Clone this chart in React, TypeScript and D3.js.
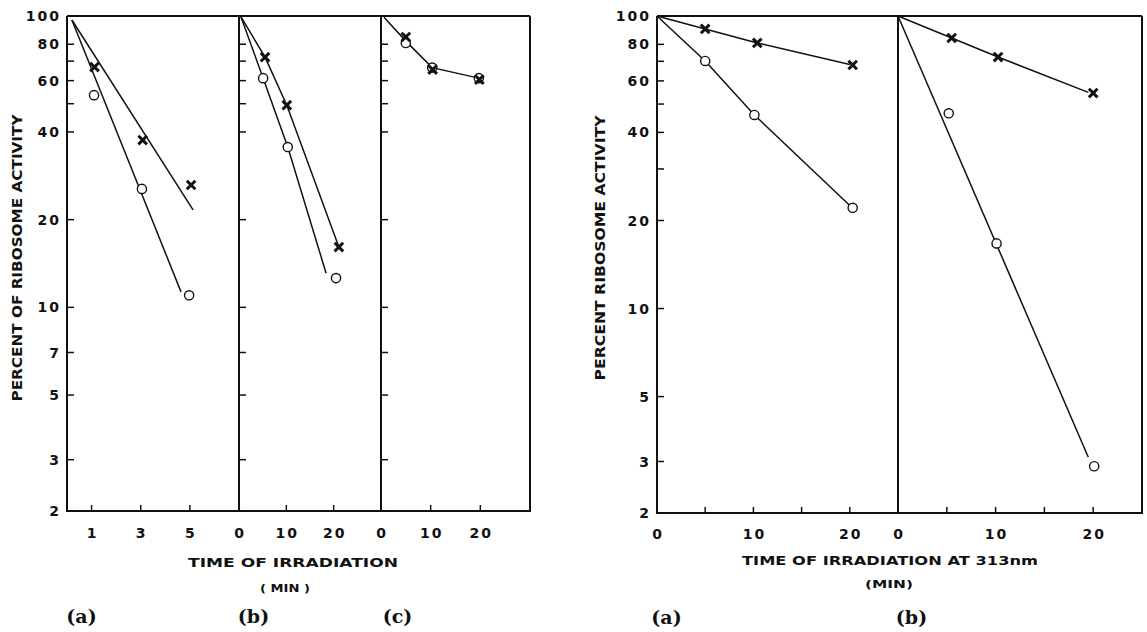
import React from 'react';
import * as d3 from 'd3';

type P = [number, number];

// ---------- DATA ----------
const leftYTicks = [100, 80, 70, 60, 50, 40, 20, 10, 7, 5, 3, 2];
const leftYLabels = [100, 80, 60, 40, 20, 10, 7, 5, 3, 2];
const rightYTicks = [100, 80, 70, 60, 50, 40, 30, 20, 10, 5, 3, 2];
const rightYLabels = [100, 80, 60, 40, 20, 10, 5, 3, 2];

const laXTicks = [1, 3, 5];
const laXLabels = [1, 3, 5];
const lbXTicks = [10, 20];
const lbXLabels = [0, 10, 20];
const lcXTicks = [10, 20];
const lcXLabels = [0, 10, 20];
const raXTicks = [5, 10, 15, 20];
const raXLabels = [0, 10, 20];
const rbXTicks = [5, 10, 15, 20];
const rbXLabels = [0, 10, 20];

// left figure, panel (a)
const laX: P[] = [[1.12, 66.8], [3.08, 37.5], [5.05, 26.3]];
const laO: P[] = [[1.1, 53.5], [3.05, 25.5], [4.97, 11.0]];
const laLineX: P[] = [[0.2, 96.9], [5.13, 21.6]];
const laLineO: P[] = [[0.2, 96.9], [4.64, 11.3]];
// panel (b)
const lbX: P[] = [[5.5, 72.2], [10.1, 49.4], [21.1, 16.1]];
const lbO: P[] = [[5.1, 61.2], [10.3, 35.5], [20.5, 12.6]];
const lbLineX: P[] = [[0.4, 99.5], [5.5, 72.2], [10.1, 49.4], [21.1, 16.1]];
const lbLineO: P[] = [[0.4, 99.5], [5.1, 61.2], [10.3, 35.5], [18.4, 13.1]];
// panel (c)
const lcX: P[] = [[5.0, 84.7], [10.4, 65.5], [19.8, 60.5]];
const lcO: P[] = [[5.0, 80.8], [10.3, 66.5], [19.7, 61.2]];
const lcLine: P[] = [[0.6, 99], [5.0, 82], [10.3, 66.5], [19.7, 61.2]];

// right figure, panel (a)
const raX: P[] = [[5.0, 90.3], [10.4, 80.9], [20.3, 68.0]];
const raO: P[] = [[5.0, 70.2], [10.1, 45.9], [20.3, 22.1]];
const raLineX: P[] = [[0, 100], [5.0, 90.3], [10.4, 80.9], [20.0, 68.3]];
const raLineO: P[] = [[0, 100], [5.0, 70.2], [10.1, 45.9], [20.0, 22.5]];
// panel (b)
const rbX: P[] = [[5.5, 84.1], [10.25, 72.4], [20.0, 54.5]];
const rbO: P[] = [[5.2, 46.5], [10.1, 16.7], [20.1, 2.89]];
const rbLineX: P[] = [[0, 100], [5.5, 84.1], [10.25, 72.4], [19.5, 54.8]];
const rbLineO: P[] = [[0, 100], [19.5, 3.1]];

// ---------- STYLE ----------
const SANS = "'DejaVu Sans', 'Liberation Sans', sans-serif";
const SERIF = "'DejaVu Serif', 'Liberation Serif', serif";
const INK = '#111';

function XMark({ x, y }: { x: number; y: number }) {
  const s = 4.3;
  return (
    <path
      d={`M${x - s},${y - s}L${x + s},${y + s}M${x + s},${y - s}L${x - s},${y + s}`}
      stroke={INK}
      strokeWidth={3}
      fill="none"
    />
  );
}

function OMark({ x, y }: { x: number; y: number }) {
  return <circle cx={x} cy={y} r={4.6} fill="#fff" stroke={INK} strokeWidth={1.4} />;
}

type PanelProps = {
  x0: number;
  x1: number;
  domain: number;
  y: d3.ScaleLogarithmic<number, number>;
  bottom: number;
  yTicks: number[];
  yLabels: number[] | null;
  xTicks: number[];
  xLabels: number[];
  labelY: number;
  lines: P[][];
  xs: P[];
  os: P[];
};

function Panel(p: PanelProps) {
  const x = d3.scaleLinear().domain([0, p.domain]).range([p.x0, p.x1]);
  const line = d3
    .line<P>()
    .x((d) => x(d[0]))
    .y((d) => p.y(d[1]));
  return (
    <g>
      {p.yTicks.map((t) => (
        <line key={'yt' + t} x1={p.x0} x2={p.x0 + 7} y1={p.y(t)} y2={p.y(t)} stroke={INK} strokeWidth={1.5} />
      ))}
      {p.yLabels &&
        p.yLabels.map((t) => (
          <text
            key={'yl' + t}
            x={p.x0 - 6}
            y={p.y(t)}
            dy="0.36em"
            textAnchor="end"
            fontFamily={SANS}
            fontWeight="bold"
            fontSize={14}
            letterSpacing={2}
            fill={INK}
          >
            {t}
          </text>
        ))}
      {p.xTicks.map((t) => (
        <line key={'xt' + t} x1={x(t)} x2={x(t)} y1={p.bottom} y2={p.bottom - 6} stroke={INK} strokeWidth={1.5} />
      ))}
      {p.xLabels.map((t) => (
        <text
          key={'xl' + t}
          x={x(t) + 1}
          y={p.labelY}
          textAnchor="middle"
          fontFamily={SANS}
          fontWeight="bold"
          fontSize={14}
          letterSpacing={2}
          fill={INK}
        >
          {t}
        </text>
      ))}
      {p.lines.map((l, i) => (
        <path key={'ln' + i} d={line(l) || ''} fill="none" stroke={INK} strokeWidth={1.5} />
      ))}
      {p.os.map((d, i) => (
        <OMark key={'o' + i} x={x(d[0])} y={p.y(d[1])} />
      ))}
      {p.xs.map((d, i) => (
        <XMark key={'x' + i} x={x(d[0])} y={p.y(d[1])} />
      ))}
    </g>
  );
}

export default function App() {
  const top = 16;
  const lBottom = 511;
  const rBottom = 513;
  const yL = d3.scaleLog().domain([2, 100]).range([lBottom, top]);
  const yR = d3.scaleLog().domain([2, 100]).range([rBottom, top]);

  const la = { x0: 67, x1: 239 };
  const lb = { x0: 239, x1: 381 };
  const lc = { x0: 381, x1: 530 };
  const ra = { x0: 657, x1: 898 };
  const rb = { x0: 898, x1: 1142 };

  const frame = (x0: number, x1: number, bottom: number, axes: number[]) => (
    <g stroke={INK} strokeWidth={2} fill="none">
      <line x1={x0} x2={x1} y1={top} y2={top} />
      <line x1={x0 - 1} x2={x1 + 1} y1={bottom} y2={bottom} />
      <line x1={x1} x2={x1} y1={top} y2={bottom} />
      {axes.map((a) => (
        <line key={a} x1={a} x2={a} y1={top} y2={bottom} />
      ))}
    </g>
  );

  return (
    <svg
      width={1147}
      height={632}
      style={{ position: 'absolute', left: 0, top: 0, background: '#fff' }}
    >
      <rect width={1147} height={632} fill="#fff" />
      {frame(la.x0, lc.x1, lBottom, [la.x0, lb.x0, lc.x0])}
      {frame(ra.x0, rb.x1, rBottom, [ra.x0, rb.x0])}

      <Panel {...la} domain={7} y={yL} bottom={lBottom} yTicks={leftYTicks} yLabels={leftYLabels}
        xTicks={laXTicks} xLabels={laXLabels} labelY={538} lines={[laLineX, laLineO]} xs={laX} os={laO} />
      <Panel {...lb} domain={30} y={yL} bottom={lBottom} yTicks={leftYTicks} yLabels={null}
        xTicks={lbXTicks} xLabels={lbXLabels} labelY={538} lines={[lbLineX, lbLineO]} xs={lbX} os={lbO} />
      <Panel {...lc} domain={30} y={yL} bottom={lBottom} yTicks={leftYTicks} yLabels={null}
        xTicks={lcXTicks} xLabels={lcXLabels} labelY={538} lines={[lcLine]} xs={lcX} os={lcO} />
      <Panel {...ra} domain={25} y={yR} bottom={rBottom} yTicks={rightYTicks} yLabels={rightYLabels}
        xTicks={raXTicks} xLabels={raXLabels} labelY={539} lines={[raLineX, raLineO]} xs={raX} os={raO} />
      <Panel {...rb} domain={25} y={yR} bottom={rBottom} yTicks={[]} yLabels={null}
        xTicks={rbXTicks} xLabels={rbXLabels} labelY={539} lines={[rbLineX, rbLineO]} xs={rbX} os={rbO} />

      {/* axis titles */}
      <g fontFamily={SANS} fill={INK}>
        <text transform="translate(22,258) rotate(-90)" textAnchor="middle" fontSize={13.5} fontWeight="bold"
          textLength={287} lengthAdjust="spacingAndGlyphs">PERCENT OF RIBOSOME ACTIVITY</text>
        <text transform="translate(605,248) rotate(-90)" textAnchor="middle" fontSize={13.5} fontWeight="bold"
          textLength={265} lengthAdjust="spacingAndGlyphs">PERCENT RIBOSOME ACTIVITY</text>
        <text x={293} y={567} textAnchor="middle" fontSize={12.5} fontWeight="bold"
          textLength={210} lengthAdjust="spacingAndGlyphs">TIME  OF  IRRADIATION</text>
        <text x={285} y={592} textAnchor="middle" fontSize={10.5} fontWeight="bold"
          textLength={50} lengthAdjust="spacingAndGlyphs">( MIN )</text>
        <text x={890} y={565} textAnchor="middle" fontSize={12.5} fontWeight="600"
          textLength={296} lengthAdjust="spacingAndGlyphs">TIME OF IRRADIATION AT 313nm</text>
        <text x={889} y={588} textAnchor="middle" fontSize={10.5} fontWeight="600"
          textLength={48} lengthAdjust="spacingAndGlyphs">(MIN)</text>
      </g>

      {/* panel labels */}
      <g fontFamily={SERIF} fontWeight="bold" fontSize={19} fill={INK}>
        <text x={81.5} y={623} textAnchor="middle">(a)</text>
        <text x={253.5} y={623} textAnchor="middle">(b)</text>
        <text x={397.5} y={623} textAnchor="middle">(c)</text>
        <text x={666.5} y={624} textAnchor="middle">(a)</text>
        <text x={911.5} y={624} textAnchor="middle">(b)</text>
      </g>
    </svg>
  );
}
